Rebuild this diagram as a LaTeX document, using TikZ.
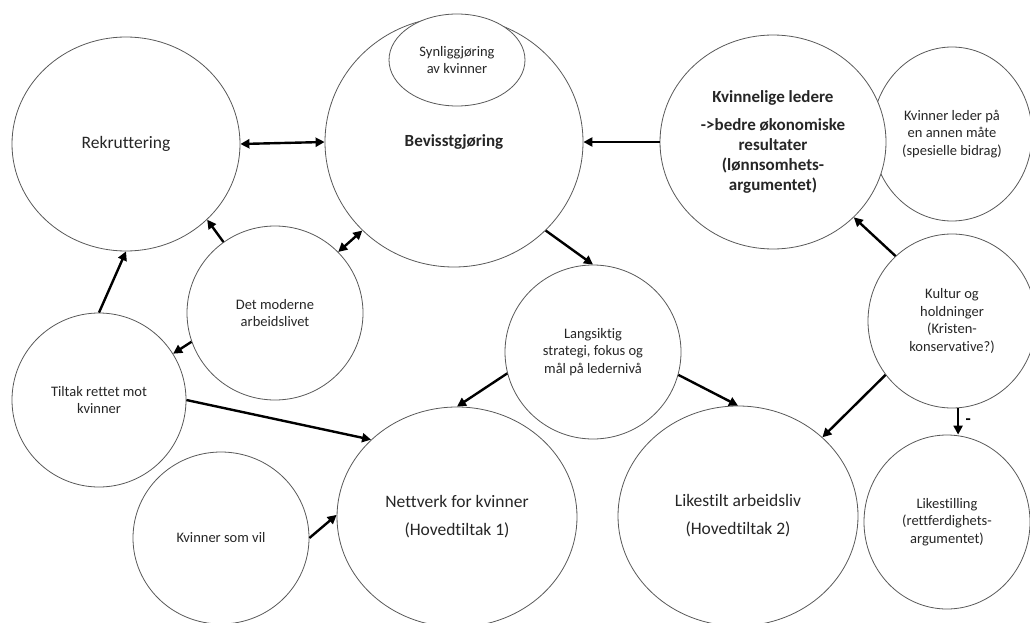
\documentclass[tikz,border=0pt]{standalone}
\usepackage{fontspec}
\setmainfont{Carlito}[Ligatures=NoCommon]
\usetikzlibrary{shapes.geometric,arrows.meta}
\begin{document}
\begin{tikzpicture}[x=1pt, y=-1pt,
    bubble/.style={ellipse, draw=black!65, line width=0.8pt, fill=white, inner sep=0pt,
        align=center, text=black!85, font=\fontsize{14.5}{17.5}\selectfont},
    big/.style={font=\fontsize{17.5}{20}\selectfont},
    bold/.style={font=\fontsize{17}{20}\selectfont\bfseries},
    arr/.style={-{Triangle[length=9pt,width=9pt]}, line width=2.4pt},
    darr/.style={{Triangle[length=9pt,width=9pt]}-{Triangle[length=9pt,width=9pt]}, line width=2.4pt}]
    \useasboundingbox (0,0) rectangle (1030,623);

    \node (rek) [bubble, big, minimum width=228pt, minimum height=214pt] at (126,144) {Rekruttering};
    \node (bev) [bubble, bold, minimum width=258pt, minimum height=250pt] at (454,142) {Bevisstgjøring};
    \node (syn) [bubble, minimum width=136pt, minimum height=92pt] at (457,60) {Synliggjøring\\av kvinner};
    \node (kll) [bubble, minimum width=160pt, minimum height=174pt] at (952,134) {Kvinner leder på\\en annen måte\\(spesielle bidrag)};
    \node (kvl) [bubble, bold, minimum width=226pt, minimum height=214pt] at (773,142)
        {Kvinnelige ledere\\[8pt]->bedre økonomiske\\resultater\\(lønnsomhets-\\argumentet)};
    \node (det) [bubble, minimum width=176pt, minimum height=174pt] at (275,313) {Det moderne\\arbeidslivet};
    \node (tilt) [bubble, minimum width=174pt, minimum height=174pt] at (99,400) {Tiltak rettet mot\\kvinner};
    \node (kvs) [bubble, minimum width=176pt, minimum height=172pt] at (221,538) {Kvinner som vil};
    \node (nett) [bubble, big, minimum width=240pt, minimum height=220pt] at (457,517) {Nettverk for kvinner\\[8pt](Hovedtiltak 1)};
    \node (lang) [bubble, minimum width=176pt, minimum height=174pt] at (593,352) {Langsiktig\\strategi, fokus og\\mål på ledernivå};
    \node (lik) [bubble, big, minimum width=240pt, minimum height=220pt] at (738,516) {Likestilt arbeidsliv\\[8pt](Hovedtiltak 2)};
    \node (kul) [bubble, minimum width=168pt, minimum height=174pt] at (952,321) {Kultur og\\holdninger\\(Kristen-\\konservative?)};
    \node (ls) [bubble, minimum width=166pt, minimum height=174pt] at (947,522) {Likestilling\\(rettferdighets-\\argumentet)};

    \draw[darr] (rek.east) -- (bev.west);
    \draw[arr] (kvl.west) -- (bev.east);
    \draw[arr] (det.126) -- (rek.-43);
    \draw[darr] (det.44) -- (bev.224);
    \draw[arr] (tilt.north) -- (rek.south);
    \draw[arr] (det.199) -- (tilt.32);
    \draw[arr] (bev.-44) -- (lang.north);
    \draw[arr] (kul.131) -- (kvl.-43);
    \draw[arr] (lang.194) -- (nett.north);
    \draw[arr] (lang.-15) -- (lik.north);
    \draw[arr] (kul.219) -- (lik.43);
    \draw[arr] (kul.-86) -- node[right=3pt, bold] {-} (kul.-86 |- ls.north);
    \draw[arr] (tilt.east) -- (nett.138);
    \draw[arr] (kvs.east) -- (nett.179);
\end{tikzpicture}
\end{document}
